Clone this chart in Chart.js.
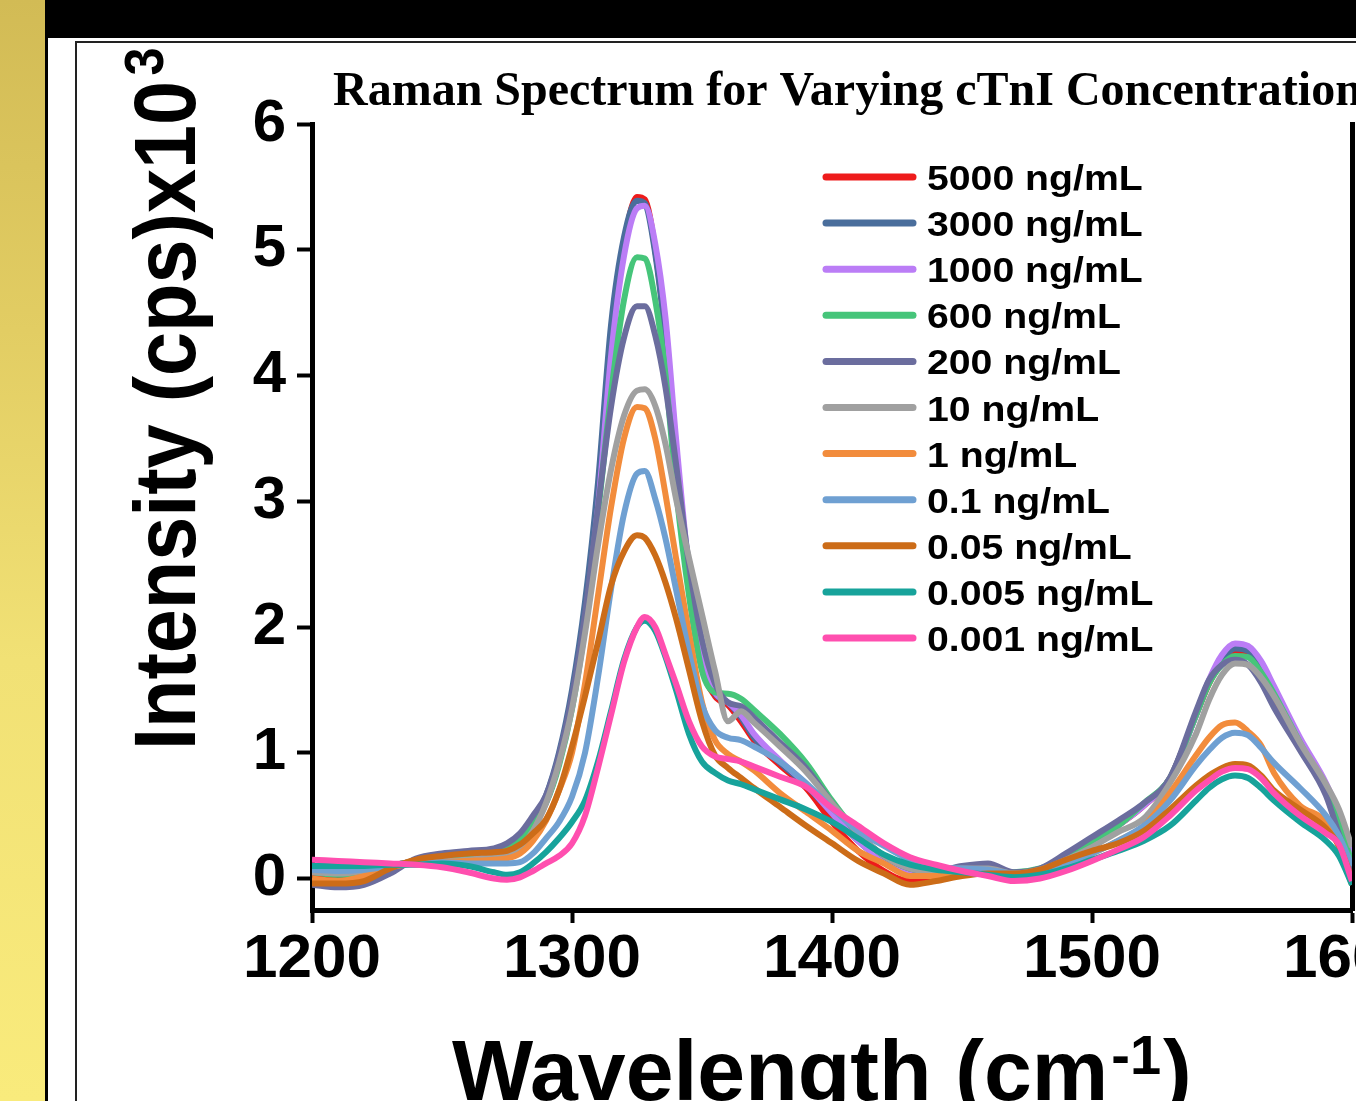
<!DOCTYPE html>
<html>
<head>
<meta charset="utf-8">
<script src="https://cdn.jsdelivr.net/npm/chart.js@4.4.1/dist/chart.umd.min.js"></script>
<style>
  html, body { margin: 0; padding: 0; }
  body { width: 1356px; height: 1101px; overflow: hidden; background: #fff; position: relative; }
  #gold { position: absolute; left: 0; top: 0; width: 45px; height: 1101px;
          background: linear-gradient(#d2bb55 0%, #e2cd63 30%, #f1e175 60%, #f9eb7c 100%); }
  #topbar { position: absolute; left: 45px; top: 0; width: 1311px; height: 38px; background: #000; }
  #leftbar { position: absolute; left: 45px; top: 0; width: 3px; height: 1101px; background: #000; }
  #frame { position: absolute; left: 75px; top: 41px; width: 1281px; height: 1060px;
           border-left: 2px solid #222; border-top: 2px solid #222; box-sizing: border-box; }
  #wrap { position: absolute; left: 0; top: 0; width: 1356px; height: 1101px; }
</style>
</head>
<body>
<div id="gold"></div>
<div id="topbar"></div>
<div id="leftbar"></div>
<div id="frame"></div>
<div id="wrap"><canvas id="c" width="1356" height="1101"></canvas></div>
<script>
// ---------- data ----------
const chartTitle = 'Raman Spectrum for Varying cTnI Concentration';
const xTitleMain = 'Wavelength (cm';
const xTitleSup = '-1';
const xTitleEnd = ')';
const yTitleMain = 'Intensity (cps)x10';
const yTitleSup = '3';

const seriesLabels = ['5000 ng/mL','3000 ng/mL','1000 ng/mL','600 ng/mL','200 ng/mL','10 ng/mL','1 ng/mL','0.1 ng/mL','0.05 ng/mL','0.005 ng/mL','0.001 ng/mL'];
const seriesColors = ['#ee1b1b','#4a6e9c','#bb7df6','#46c57a','#6b6d9e','#a0a0a0','#f28c3c','#6fa0d2','#cc6c18','#17a39b','#ff4faf'];

const wavenumbers = [1200,1210,1220,1230,1240,1250,1260,1270,1275,1280,
  1285,1290,1295,1300,1305,1310,1315,1320,1325,1328,
  1332,1336,1340,1345,1350,1355,1360,1365,1370,1380,
  1390,1400,1410,1420,1430,1440,1450,1460,1470,1480,
  1490,1500,1510,1520,1530,1540,1545,1550,1555,1560,
  1565,1570,1580,1590,1595,1600];

const s5000 = [0.04,0.02,0.05,0.10,0.14,0.17,0.19,0.21,0.24,0.31,
  0.43,0.62,0.95,1.42,2.10,3.05,4.30,5.05,5.42,5.40,
  5.00,4.30,3.30,2.30,1.68,1.45,1.38,1.25,1.10,0.90,
  0.72,0.45,0.22,0.06,-0.02,0.00,0.05,0.08,0.04,0.07,
  0.16,0.27,0.42,0.58,0.80,1.30,1.55,1.72,1.80,1.79,
  1.65,1.45,1.05,0.70,0.45,0.10];
const s3000 = [0.07,0.05,0.07,0.10,0.14,0.17,0.19,0.21,0.24,0.32,
  0.45,0.66,1.00,1.50,2.20,3.15,4.40,5.10,5.39,5.37,
  4.97,4.28,3.32,2.35,1.72,1.47,1.40,1.28,1.12,0.92,
  0.74,0.52,0.30,0.14,0.06,0.05,0.08,0.08,0.04,0.07,
  0.16,0.27,0.42,0.59,0.80,1.30,1.56,1.74,1.83,1.81,
  1.67,1.47,1.07,0.72,0.46,0.10];
const s1000 = [0.06,0.04,0.06,0.10,0.14,0.16,0.18,0.20,0.23,0.30,
  0.42,0.60,0.92,1.38,2.05,2.95,4.15,4.95,5.33,5.35,
  5.05,4.45,3.50,2.45,1.75,1.48,1.40,1.30,1.15,0.94,
  0.75,0.52,0.30,0.14,0.06,0.05,0.08,0.08,0.04,0.07,
  0.16,0.27,0.42,0.58,0.80,1.30,1.58,1.78,1.87,1.85,
  1.73,1.53,1.12,0.76,0.52,0.20];
const s600 = [0.05,0.03,0.05,0.10,0.14,0.16,0.18,0.20,0.24,0.30,
  0.42,0.60,0.90,1.35,2.00,2.90,3.85,4.60,4.94,4.93,
  4.60,4.00,3.10,2.25,1.65,1.48,1.47,1.43,1.34,1.15,
  0.92,0.62,0.36,0.18,0.08,0.06,0.09,0.09,0.05,0.08,
  0.17,0.30,0.42,0.60,0.80,1.30,1.55,1.70,1.77,1.76,
  1.64,1.47,1.08,0.70,0.45,0.12];
const s200 = [-0.05,-0.07,-0.05,0.04,0.16,0.20,0.22,0.24,0.28,0.36,
  0.50,0.66,0.98,1.45,2.10,2.95,3.75,4.30,4.55,4.55,
  4.32,3.90,3.30,2.50,1.90,1.55,1.40,1.37,1.28,1.08,
  0.88,0.60,0.36,0.18,0.08,0.06,0.10,0.12,0.05,0.08,
  0.20,0.33,0.46,0.60,0.80,1.33,1.58,1.70,1.74,1.70,
  1.56,1.36,1.02,0.66,0.35,0.05];
const s10 = [0.05,0.04,0.06,0.10,0.13,0.14,0.15,0.18,0.20,0.25,
  0.38,0.60,0.92,1.35,1.95,2.65,3.25,3.68,3.88,3.89,
  3.76,3.45,3.02,2.55,2.10,1.65,1.25,1.33,1.24,1.05,
  0.85,0.60,0.36,0.18,0.08,0.06,0.08,0.08,0.04,0.07,
  0.15,0.25,0.37,0.48,0.76,1.15,1.42,1.62,1.71,1.70,
  1.60,1.45,1.08,0.75,0.55,0.25];
const s1 = [0.00,-0.02,0.02,0.09,0.12,0.13,0.14,0.15,0.16,0.20,
  0.30,0.46,0.70,1.00,1.55,2.25,2.95,3.50,3.75,3.74,
  3.50,3.05,2.55,1.95,1.40,1.10,0.99,0.93,0.86,0.68,
  0.53,0.38,0.22,0.12,0.02,0.02,0.05,0.05,0.03,0.06,
  0.12,0.20,0.30,0.42,0.68,0.98,1.12,1.22,1.24,1.17,
  1.06,0.84,0.58,0.45,0.25,-0.05];
const s01 = [0.07,0.06,0.07,0.10,0.12,0.13,0.12,0.12,0.12,0.13,
  0.20,0.32,0.45,0.65,1.00,1.60,2.30,2.90,3.22,3.24,
  3.02,2.70,2.30,1.80,1.38,1.18,1.12,1.10,1.05,0.93,
  0.76,0.56,0.38,0.26,0.15,0.09,0.08,0.07,0.04,0.06,
  0.12,0.20,0.30,0.42,0.62,0.90,1.02,1.12,1.16,1.14,
  1.04,0.92,0.72,0.50,0.34,0.10];
const s005 = [-0.04,-0.04,-0.02,0.08,0.15,0.18,0.20,0.21,0.22,0.27,
  0.36,0.47,0.70,1.05,1.45,1.88,2.33,2.60,2.73,2.71,
  2.57,2.35,2.07,1.66,1.25,0.98,0.88,0.80,0.72,0.57,
  0.42,0.28,0.14,0.04,-0.05,-0.02,0.02,0.04,0.04,0.07,
  0.15,0.22,0.28,0.38,0.55,0.74,0.82,0.88,0.91,0.90,
  0.82,0.70,0.55,0.40,0.26,0.00];
const s0005 = [0.10,0.10,0.10,0.11,0.11,0.12,0.10,0.05,0.03,0.05,
  0.12,0.21,0.32,0.45,0.62,0.93,1.33,1.74,2.00,2.05,
  1.97,1.76,1.50,1.15,0.93,0.84,0.78,0.75,0.71,0.63,
  0.55,0.45,0.32,0.19,0.11,0.07,0.05,0.03,0.01,0.03,
  0.08,0.15,0.22,0.30,0.42,0.62,0.72,0.79,0.82,0.80,
  0.72,0.62,0.45,0.30,0.18,-0.05];
const s0001 = [0.15,0.14,0.13,0.12,0.11,0.09,0.05,0.00,-0.01,0.01,
  0.06,0.12,0.18,0.28,0.50,0.88,1.30,1.72,2.00,2.08,
  2.00,1.78,1.55,1.25,1.05,0.97,0.95,0.93,0.89,0.81,
  0.73,0.56,0.42,0.28,0.17,0.11,0.06,0.02,-0.02,0.00,
  0.06,0.14,0.23,0.33,0.50,0.70,0.78,0.85,0.88,0.87,
  0.80,0.68,0.50,0.36,0.27,-0.02];

const seriesValues = [s5000, s3000, s1000, s600, s200, s10, s1, s01, s005, s0005, s0001];
const xTicks = [1200, 1300, 1400, 1500, 1600];
const yTicks = [0, 1, 2, 3, 4, 5, 6];

// ---------- chart ----------
const datasets = seriesLabels.map((lab, i) => ({
  label: lab,
  data: wavenumbers.map((x, k) => ({ x: x, y: seriesValues[i][k] })),
  borderColor: seriesColors[i],
  backgroundColor: seriesColors[i],
  borderWidth: 6,
  pointRadius: 0,
  fill: false,
  cubicInterpolationMode: 'monotone',
  order: seriesLabels.length - i
}));

const SANS = '"Liberation Sans", Arial, sans-serif';

const textPlugin = {
  id: 'texts',
  afterDraw(chart) {
    const ctx = chart.ctx;
    ctx.save();
    ctx.fillStyle = '#000';
    ctx.textBaseline = 'alphabetic';
    ctx.textAlign = 'left';

    // chart title
    ctx.font = 'bold 48px "Liberation Serif", "Times New Roman", serif';
    ctx.fillText(chartTitle, 333, 105);

    // x axis title
    ctx.font = 'bold 86px ' + SANS;
    ctx.fillText(xTitleMain, 452, 1100);
    let w = ctx.measureText(xTitleMain).width;
    ctx.font = 'bold 56px ' + SANS;
    ctx.fillText(xTitleSup, 452 + w + 3, 1074);
    let w2 = ctx.measureText(xTitleSup).width;
    ctx.font = 'bold 86px ' + SANS;
    ctx.fillText(xTitleEnd, 452 + w + 3 + w2 + 2, 1100);

    // y axis title (rotated)
    ctx.save();
    ctx.translate(195, 750);
    ctx.rotate(-Math.PI / 2);
    ctx.scale(0.9, 1);
    ctx.font = 'bold 88px ' + SANS;
    ctx.fillText(yTitleMain, 0, 0);
    const wy = ctx.measureText(yTitleMain).width;
    ctx.font = 'bold 56px ' + SANS;
    ctx.fillText(yTitleSup, wy + 6, -32);
    ctx.restore();

    // legend
    const ds = chart.data.datasets;
    for (let i = 0; i < ds.length; i++) {
      const y = 177 + i * 46.1;
      ctx.beginPath();
      ctx.lineCap = 'round';
      ctx.lineWidth = 7;
      ctx.strokeStyle = ds[i].borderColor;
      ctx.moveTo(826, y);
      ctx.lineTo(913, y);
      ctx.stroke();
      ctx.save();
      ctx.translate(927, y + 13);
      ctx.scale(1.12, 1);
      ctx.font = 'bold 35px ' + SANS;
      ctx.fillStyle = '#000';
      ctx.fillText(ds[i].label, 0, 0);
      ctx.restore();
    }
    ctx.restore();
  }
};

new Chart(document.getElementById('c'), {
  type: 'line',
  data: { datasets: datasets },
  plugins: [textPlugin],
  options: {
    responsive: false,
    animation: false,
    events: [],
    layout: { padding: { top: 124, left: 0, right: 0, bottom: 0 } },
    plugins: {
      legend: { display: false },
      title: { display: false },
      tooltip: { enabled: false }
    },
    scales: {
      x: {
        type: 'linear',
        min: xTicks[0],
        max: xTicks[xTicks.length - 1],
        ticks: {
          stepSize: 100,
          autoSkip: false,
          maxRotation: 0,
          padding: 0,
          color: '#000',
          font: { family: SANS, size: 62, weight: 'bold' },
          callback: (v) => String(v)
        },
        afterBuildTicks(s) { s.ticks = xTicks.map(v => ({ value: v })); },
        grid: { drawOnChartArea: false, drawTicks: true, tickLength: 13, tickWidth: 4, tickColor: '#000' },
        border: { display: true, color: '#000', width: 5 },
        afterFit(s) { s.height = 191; s.paddingLeft = 0; s.paddingRight = 0; }
      },
      y: {
        type: 'linear',
        min: -0.25,
        max: 6,
        ticks: {
          stepSize: 1,
          includeBounds: false,
          padding: 11,
          color: '#000',
          font: { family: SANS, size: 60, weight: 'bold' },
          callback: (v) => String(v)
        },
        afterBuildTicks(s) { s.ticks = yTicks.map(v => ({ value: v })); },
        grid: { drawOnChartArea: false, drawTicks: true, tickLength: 15, tickWidth: 4, tickColor: '#000' },
        border: { display: true, color: '#000', width: 5 },
        afterFit(s) { s.width = 312; s.paddingTop = 0; s.paddingBottom = 0; }
      },
      yRight: {
        type: 'linear',
        position: 'right',
        min: -0.25,
        max: 6,
        ticks: { display: false },
        grid: { drawOnChartArea: false, drawTicks: false },
        border: { display: true, color: '#000', width: 5 },
        afterFit(s) { s.width = 4; s.paddingTop = 0; s.paddingBottom = 0; }
      }
    }
  }
});
</script>
</body>
</html>
